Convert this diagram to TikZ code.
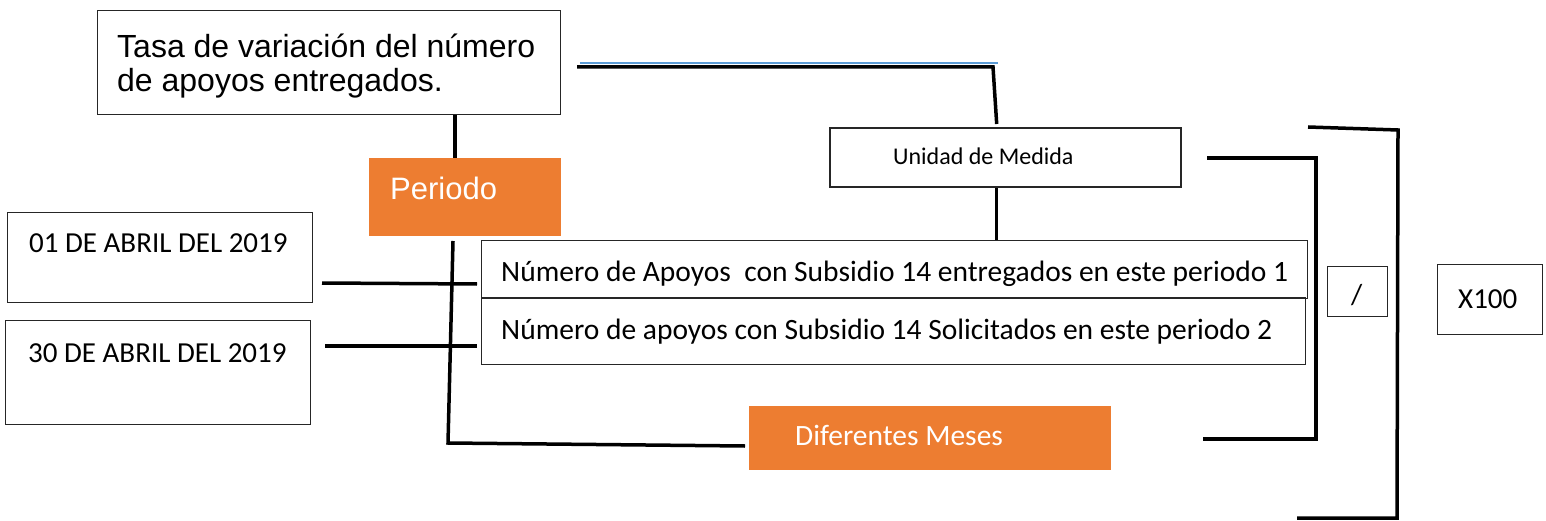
\documentclass[tikz,border=0pt]{standalone}
\usepackage{fontspec}
\setmainfont{Carlito}
\newfontfamily\arialf{Liberation Sans}
\definecolor{orng}{HTML}{ED7D31}
\definecolor{bluel}{HTML}{5B9BD5}
\begin{document}
\begin{tikzpicture}[x=1pt,y=-1pt,
  box/.style={draw=black!85, line width=1.4pt, inner sep=0pt, anchor=north west},
  obox/.style={fill=orng, draw=none, inner sep=0pt, anchor=north west},
  txt/.style={anchor=base west, inner sep=0pt, font=\fontsize{29}{32}\selectfont},
  atxt/.style={anchor=base west, inner sep=0pt, font=\arialf\fontsize{32}{34}\selectfont},
  conn/.style={line width=3.5pt, black}]
\useasboundingbox (0,0) rectangle (1546,521);
% boxes
\node[box, minimum width=463pt, minimum height=104pt] (t) at (97,10) {};
\node[obox, minimum width=192pt, minimum height=78pt] (per) at (369,158) {};
\node[box, line width=2.4pt, minimum width=351pt, minimum height=59pt] (um) at (829,127) {};
\node[box, minimum width=826pt, minimum height=58pt] (n1) at (481,240) {};
\node[box, minimum width=824pt, minimum height=67pt] (n2) at (481,297) {};
\node[box, minimum width=305pt, minimum height=90pt] (d1) at (7,212) {};
\node[box, minimum width=305pt, minimum height=104pt] (d2) at (5,320) {};
\node[obox, minimum width=362pt, minimum height=64pt] (dm) at (749,406) {};
\node[box, minimum width=60pt, minimum height=50pt] (sl) at (1327,266) {};
\node[box, minimum width=105pt, minimum height=70pt] (xc) at (1437,264) {};
% texts
\node[atxt] (t1) at (117,58) {Tasa de variación del número};
\node[atxt] (t2) at (117,92) {de apoyos entregados.};
\node[atxt, text=white, font=\arialf\fontsize{31}{34}\selectfont] (pt) at (390,200) {Periodo};
\node[txt, font=\fontsize{24}{28}\selectfont] (umt) at (893,165) {Unidad de Medida};
\node[txt, font=\fontsize{29.5}{32}\selectfont] (n1t) at (501,281) {Número de Apoyos\ \ con Subsidio 14 entregados en este periodo 1};
\node[txt, font=\fontsize{29.5}{32}\selectfont] (n2t) at (501,339) {Número de apoyos con Subsidio 14 Solicitados en este periodo 2};
\node[txt] (d1t) at (29,253) {01 DE ABRIL DEL 2019};
\node[txt] (d2t) at (28,362) {30 DE ABRIL DEL 2019};
\node[txt, text=white, font=\fontsize{29.5}{32}\selectfont] (dmt) at (795,445) {Diferentes Meses};
\node[txt] (slt) at (1351,304) {/};
\node[txt] (xct) at (1458,308) {X100};
% free ends
\coordinate (b1) at (580,63);
\coordinate (b2) at (998,63);
\coordinate (k1) at (577,67);
\coordinate (k2) at (993,67);
\coordinate (p0) at (453,241);
\coordinate (p1) at (448,443);
\coordinate (p2) at (745,446);
\coordinate (e1) at (322,283);
\coordinate (e2) at (477,284);
\coordinate (f1) at (325,346);
\coordinate (f2) at (477,346);
\coordinate (i1) at (1207,158);
\coordinate (i2) at (1316,158);
\coordinate (i3) at (1316,439);
\coordinate (i4) at (1203,439);
\coordinate (o1) at (1308,127);
\coordinate (o2) at (1398,130);
\coordinate (o3) at (1397,518);
\coordinate (o4) at (1297,518);
% connectors
\draw[conn] ([xshift=-10pt]per.north |- t.south) -- ([xshift=-10pt]per.north);
\draw[bluel, line width=1.6pt] (b1) -- (b2);
\draw[conn] (k1) -- (k2) -- ([xshift=-9pt,yshift=3pt]um.north);
\draw[conn] ([xshift=-9pt]um.south) -- ([xshift=-9pt]um.south |- n1.north);
\draw[conn] (p0) -- (p1) -- (p2);
\draw[conn] (e1) -- (e2);
\draw[conn] (f1) -- (f2);
\draw[conn] (i1) -- (i2) -- (i3) -- (i4);
\draw[conn] (o1) -- (o2) -- (o3) -- (o4);
\end{tikzpicture}
\end{document}
